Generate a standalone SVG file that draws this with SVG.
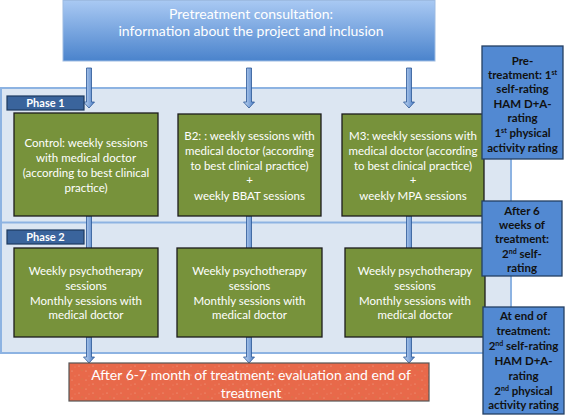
<svg xmlns="http://www.w3.org/2000/svg" width="567" height="418" viewBox="0 0 567 418">
<defs>
<linearGradient id="topg" x1="0" y1="0" x2="0" y2="1">
<stop offset="0" stop-color="#a9c9f3"/>
<stop offset="1" stop-color="#4a83cc"/>
</linearGradient>
<linearGradient id="arrg" x1="0" y1="0" x2="1" y2="0">
<stop offset="0" stop-color="#c7dcf6"/>
<stop offset="1" stop-color="#4a7cc4"/>
</linearGradient>
<pattern id="speck" width="14" height="9" patternUnits="userSpaceOnUse">
<rect width="14" height="9" fill="#e8694a"/>
<circle cx="2" cy="2" r="0.5" fill="#f3b79f"/>
<circle cx="9" cy="6" r="0.5" fill="#f3b79f"/>
<circle cx="12" cy="1" r="0.4" fill="#9aa84a"/>
<circle cx="5" cy="7" r="0.4" fill="#f0a98f"/>
</pattern>
</defs>
<style>
.green{fill:#77923b;stroke:#1c1c1c;stroke-width:1.3}
.gt{font-family:Lato,"Open Sans",sans-serif;font-size:11.5px;fill:#ffffff;text-anchor:middle}
.blue{fill:#5289d2;stroke:#243f63;stroke-width:1.3}
.bt{font-family:Lato,"Open Sans",sans-serif;font-size:11.5px;font-weight:bold;fill:#111111;text-anchor:middle}
.ph{fill:#3a649c;stroke:#1d3a60;stroke-width:1.2}
.pt{font-family:Lato,"Open Sans",sans-serif;font-size:11px;font-weight:bold;fill:#ffffff;text-anchor:middle}
.wt{font-family:Lato,"Open Sans",sans-serif;font-size:14px;fill:#ffffff;text-anchor:middle}
.arr{fill:url(#arrg);stroke:#2b5795;stroke-width:0.8}
.sup{font-size:7px}
</style>

<g id="panel">
<rect x="1" y="88" width="510" height="265" fill="#dce6f2" stroke="#8db3e2" stroke-width="2"/>
<line x1="1" y1="222.5" x2="511" y2="222.5" stroke="#8db3e2" stroke-width="2"/>
</g>

<g id="pretreatment">
<rect x="63" y="0.5" width="372" height="60.5" fill="url(#topg)" stroke="#9dbbe2" stroke-width="1"/>
<text class="wt" x="251" y="18.5">Pretreatment consultation:</text>
<text class="wt" x="251" y="36">information about the project and inclusion</text>
</g>

<g id="connectors">
<polygon class="arr" points="86.5,68 91.5,68 91.5,102 94.5,102 89,108 83.5,102 86.5,102"/>
<polygon class="arr" points="246.5,68 251.5,68 251.5,102 254.5,102 249,108 243.5,102 246.5,102"/>
<polygon class="arr" points="406.5,68 411.5,68 411.5,102 414.5,102 409,108 403.5,102 406.5,102"/>
<polygon class="arr" points="86.5,216 91.5,216 91.5,250 94.5,250 89,256 83.5,250 86.5,250"/>
<polygon class="arr" points="246.5,216 251.5,216 251.5,250 254.5,250 249,256 243.5,250 246.5,250"/>
<polygon class="arr" points="406.5,216 411.5,216 411.5,250 414.5,250 409,256 403.5,250 406.5,250"/>
<polygon class="arr" points="86.5,337 91.5,337 91.5,357 94.5,357 89,363 83.5,357 86.5,357"/>
<polygon class="arr" points="246.5,337 251.5,337 251.5,357 254.5,357 249,363 243.5,357 246.5,357"/>
<polygon class="arr" points="406.5,337 411.5,337 411.5,357 414.5,357 409,363 403.5,357 406.5,357"/>
</g>

<g id="phase1">
<rect class="ph" x="7" y="96" width="77" height="14"/>
<text class="pt" x="45.5" y="107">Phase 1</text>
</g>
<g id="phase2">
<rect class="ph" x="7" y="230" width="77" height="14"/>
<text class="pt" x="45.5" y="241">Phase 2</text>
</g>

<g id="control">
<rect class="green" x="14" y="113" width="144" height="103"/>
<text class="gt" x="86" y="147">Control: weekly sessions</text>
<text class="gt" x="86" y="162">with medical doctor</text>
<text class="gt" x="86" y="177">(according to best clinical</text>
<text class="gt" x="86" y="191.5">practice)</text>
</g>

<g id="b2">
<rect class="green" x="178" y="114" width="143" height="102"/>
<text class="gt" x="249.5" y="140">B2: : weekly sessions with</text>
<text class="gt" x="249.5" y="155">medical doctor (according</text>
<text class="gt" x="249.5" y="170">to best clinical practice)</text>
<text class="gt" x="249.5" y="184">+</text>
<text class="gt" x="249.5" y="200">weekly BBAT sessions</text>
</g>

<g id="m3">
<rect class="green" x="342" y="114" width="142" height="102"/>
<text class="gt" x="413" y="140">M3: weekly sessions with</text>
<text class="gt" x="413" y="155">medical doctor (according</text>
<text class="gt" x="413" y="170">to best clinical practice)</text>
<text class="gt" x="413" y="184">+</text>
<text class="gt" x="413" y="200">weekly MPA sessions</text>
</g>

<g id="control2">
<rect class="green" x="14" y="248" width="144" height="89"/>
<text class="gt" x="86" y="275">Weekly psychotherapy</text>
<text class="gt" x="86" y="290">sessions</text>
<text class="gt" x="86" y="305">Monthly sessions with</text>
<text class="gt" x="86" y="319">medical doctor</text>
</g>
<g id="b2-2">
<rect class="green" x="177" y="248" width="145" height="89"/>
<text class="gt" x="249.5" y="275">Weekly psychotherapy</text>
<text class="gt" x="249.5" y="290">sessions</text>
<text class="gt" x="249.5" y="305">Monthly sessions with</text>
<text class="gt" x="249.5" y="319">medical doctor</text>
</g>
<g id="m3-2">
<rect class="green" x="345" y="248" width="140" height="89"/>
<text class="gt" x="415" y="275">Weekly psychotherapy</text>
<text class="gt" x="415" y="290">sessions</text>
<text class="gt" x="415" y="305">Monthly sessions with</text>
<text class="gt" x="415" y="319">medical doctor</text>
</g>

<g id="end">
<rect x="69" y="363" width="360" height="38" fill="url(#speck)" stroke="#555555" stroke-width="1.2"/>
<text class="wt" x="251" y="380">After 6-7 month of treatment: evaluation and end of</text>
<text class="wt" x="251" y="397.5">treatment</text>
</g>

<g id="rating1">
<rect class="blue" x="482" y="46" width="81" height="113"/>
<text class="bt" x="522.5" y="65">Pre-</text>
<text class="bt" x="522.5" y="78.5">treatment: 1<tspan class="sup" dy="-4">st</tspan></text>
<text class="bt" x="522.5" y="93">self-rating</text>
<text class="bt" x="522.5" y="107.5">HAM D+A-</text>
<text class="bt" x="522.5" y="122">rating</text>
<text class="bt" x="522.5" y="137">1<tspan class="sup" dy="-4">st</tspan><tspan dy="4"> physical</tspan></text>
<text class="bt" x="522.5" y="152">activity rating</text>
</g>

<g id="rating2">
<rect class="blue" x="482" y="201" width="80" height="75"/>
<text class="bt" x="522" y="215">After 6</text>
<text class="bt" x="522" y="228.5">weeks of</text>
<text class="bt" x="522" y="243">treatment:</text>
<text class="bt" x="522" y="257.5">2<tspan class="sup" dy="-4">nd</tspan><tspan dy="4"> self-</tspan></text>
<text class="bt" x="522" y="272">rating</text>
</g>

<g id="rating3">
<rect class="blue" x="483" y="307" width="81" height="107"/>
<text class="bt" x="523.5" y="320">At end of</text>
<text class="bt" x="523.5" y="335">treatment:</text>
<text class="bt" x="523.5" y="350">2<tspan class="sup" dy="-4">nd</tspan><tspan dy="4"> self-rating</tspan></text>
<text class="bt" x="523.5" y="365">HAM D+A-</text>
<text class="bt" x="523.5" y="380">rating</text>
<text class="bt" x="523.5" y="394.5">2<tspan class="sup" dy="-4">nd</tspan><tspan dy="4"> physical</tspan></text>
<text class="bt" x="523.5" y="409">activity rating</text>
</g>
</svg>
